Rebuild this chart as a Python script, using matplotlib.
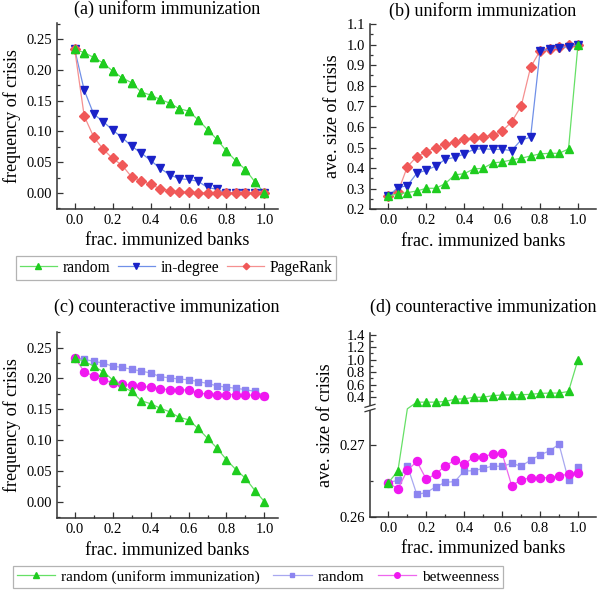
import numpy as np
import matplotlib
matplotlib.use("Agg")
import matplotlib.pyplot as plt
from matplotlib.lines import Line2D
from matplotlib.ticker import MultipleLocator, FixedLocator, FixedFormatter

plt.rcParams['font.family'] = ['Liberation Serif', 'DejaVu Serif']
plt.rcParams['mathtext.fontset'] = 'stix'

# ---------------- data ----------------
frac = [0.0, 0.05, 0.1, 0.15, 0.2, 0.25, 0.3, 0.35, 0.4, 0.45, 0.5,
        0.55, 0.6, 0.65, 0.7, 0.75, 0.8, 0.85, 0.9, 0.95, 1.0]

# (a) frequency of crisis, uniform immunization
freq_random = [0.233, 0.228, 0.220, 0.211, 0.198, 0.187, 0.179, 0.164, 0.159, 0.152, 0.146,
               0.137, 0.133, 0.119, 0.103, 0.087, 0.068, 0.052, 0.038, 0.018, 0.000]
freq_indegree = [0.233, 0.167, 0.128, 0.116, 0.102, 0.090, 0.076, 0.065, 0.053, 0.040, 0.030,
                 0.023, 0.022, 0.019, 0.009, 0.006, 0.000, 0.000, 0.000, 0.000, 0.000]
freq_pagerank = [0.233, 0.125, 0.091, 0.071, 0.056, 0.045, 0.026, 0.020, 0.014, 0.007, 0.004,
                 0.002, 0.001, 0.000, 0.000, 0.000, 0.000, 0.000, 0.000, 0.000, 0.000]

# (b) average size of crisis, uniform immunization
size_random = [0.265, 0.274, 0.281, 0.289, 0.302, 0.302, 0.325, 0.367, 0.373, 0.396, 0.399,
               0.425, 0.430, 0.440, 0.448, 0.459, 0.469, 0.472, 0.472, 0.493, 1.000]
size_indegree = [0.265, 0.305, 0.315, 0.375, 0.390, 0.410, 0.443, 0.452, 0.469, 0.491, 0.494,
                 0.491, 0.491, 0.485, 0.537, 0.550, 0.969, 0.977, 0.985, 0.990, 1.000]
size_pagerank = [0.265, 0.283, 0.407, 0.456, 0.480, 0.500, 0.517, 0.525, 0.540, 0.545, 0.553,
                 0.560, 0.580, 0.625, 0.700, 0.890, 0.970, 0.978, 0.986, 1.000, 1.000]

# (c) frequency of crisis, counteractive immunization
freq_cnt_random = [0.234, 0.231, 0.228, 0.225, 0.220, 0.218, 0.215, 0.212, 0.209, 0.203, 0.201,
                   0.199, 0.198, 0.195, 0.192, 0.188, 0.186, 0.184, 0.182, 0.179, 0.172]
freq_cnt_betw = [0.234, 0.211, 0.204, 0.198, 0.193, 0.191, 0.189, 0.187, 0.186, 0.183, 0.182,
                 0.182, 0.181, 0.176, 0.175, 0.174, 0.174, 0.174, 0.173, 0.173, 0.172]

# (d) average size of crisis, counteractive immunization
size_uni_random_d = [0.26475, 0.26635, 0.281, 0.322, 0.322, 0.322, 0.333, 0.369, 0.374, 0.400, 0.400,
                     0.426, 0.436, 0.436, 0.441, 0.446, 0.462, 0.467, 0.467, 0.493, 1.000]
size_cnt_random = [0.26475, 0.26507, 0.26708, 0.26311, 0.26338, 0.26416, 0.26479, 0.26489, 0.26635,
                   0.26639, 0.26671, 0.26703, 0.26699, 0.26740, 0.26703, 0.26785, 0.26858, 0.26913,
                   0.27005, 0.26507, 0.26685]
size_cnt_betw = [0.26475, 0.26388, 0.26644, 0.26767, 0.26521, 0.26594, 0.26708, 0.26781, 0.26726,
                 0.26831, 0.26831, 0.26872, 0.26877, 0.26434, 0.26511, 0.26543, 0.26543, 0.26543,
                 0.26571, 0.26589, 0.26603]

# ---------------- styles ----------------
G = dict(color='#66e066', marker='^', mfc='#1fcc1f', mec='#1fcc1f', ms=6.0, lw=0.9)
B = dict(color='#7090e8', marker='v', mfc='#1a22c8', mec='#1a22c8', ms=6.0, lw=0.9)
R = dict(color='#f59090', marker='D', mfc='#f05858', mec='#f05858', ms=4.8, lw=0.9)
P = dict(color='#a8a8f0', marker='s', mfc='#8c84f0', mec='#8c84f0', ms=5.0, lw=0.9)
M = dict(color='#ee66ee', marker='o', mfc='#f018f0', mec='#f018f0', ms=5.8, lw=0.9)

TICK_FS = 10.5
LAB_FS = 13

fig = plt.figure(figsize=(6.0, 5.94), dpi=100)
W, H = 600.0, 594.0


def mkax(l, t, r, b):
    return fig.add_axes([l / W, 1 - b / H, (r - l) / W, (b - t) / H])


def style(ax):
    for s in ('top', 'right'):
        ax.spines[s].set_visible(False)
    for s in ('left', 'bottom'):
        ax.spines[s].set_linewidth(1.1)
        ax.spines[s].set_color('#333333')
    ax.tick_params(which='both', direction='in', labelsize=TICK_FS, colors='#333333',
                   labelcolor='black', width=0.9)
    ax.tick_params(which='major', length=4)
    ax.tick_params(which='minor', length=2)
    ax.xaxis.set_major_locator(MultipleLocator(0.2))
    ax.xaxis.set_minor_locator(MultipleLocator(0.1))
    ax.xaxis.set_major_formatter(matplotlib.ticker.FormatStrFormatter('%.1f'))
    ax.set_xlabel('frac. immunized banks', fontsize=LAB_FS, labelpad=4)


# (a)
axa = mkax(56.7, 22.7, 277.7, 209)
axa.plot(frac, freq_random, **G)
axa.plot(frac, freq_indegree, **B)
axa.plot(frac, freq_pagerank, **R)
axa.plot(frac, freq_random, linestyle='none', marker='^', mfc='#1fcc1f', mec='#1fcc1f', ms=6.0)
style(axa)
axa.set_xlim(-0.095, 1.07)
axa.set_ylim(-0.026, 0.2765)
axa.yaxis.set_major_locator(MultipleLocator(0.05))
axa.yaxis.set_minor_locator(MultipleLocator(0.025))
axa.yaxis.set_major_formatter(matplotlib.ticker.FormatStrFormatter('%.2f'))
axa.set_ylabel('frequency of crisis', fontsize=LAB_FS, labelpad=4)
axa.set_title('(a) uniform immunization', fontsize=LAB_FS, pad=6)

# (b)
axb = mkax(370, 24, 596, 209.3)
axb.plot(frac, size_pagerank, **R)
axb.plot(frac, size_indegree, **B)
axb.plot(frac, size_random, **G)
style(axb)
axb.set_xlim(-0.097, 1.095)
axb.set_ylim(0.2, 1.1)
axb.yaxis.set_major_locator(MultipleLocator(0.1))
axb.yaxis.set_minor_locator(MultipleLocator(0.05))
axb.yaxis.set_major_formatter(matplotlib.ticker.FormatStrFormatter('%.1f'))
axb.set_ylabel('ave. size of crisis', fontsize=LAB_FS, labelpad=4)
axb.set_title('(b) uniform immunization', fontsize=LAB_FS, pad=6)

# (c)
axc = mkax(56.7, 332.3, 277.7, 518.3)
axc.plot(frac, freq_cnt_random, **P)
axc.plot(frac, freq_cnt_betw, **M)
axc.plot(frac, freq_random, **G)
style(axc)
axc.set_xlim(-0.095, 1.07)
axc.set_ylim(-0.027, 0.275)
axc.yaxis.set_major_locator(MultipleLocator(0.05))
axc.yaxis.set_minor_locator(MultipleLocator(0.025))
axc.yaxis.set_major_formatter(matplotlib.ticker.FormatStrFormatter('%.2f'))
axc.set_ylabel('frequency of crisis', fontsize=LAB_FS, labelpad=4)
axc.set_title('(c) counteractive immunization', fontsize=LAB_FS, pad=15)

# (d) broken y axis via piecewise-linear scale
_v = np.array([-10.0, 0.26, 0.2747, 0.30, 10.0])
_p = np.array([(-10.0 - 0.26) * 7230, 0.0, 106.3, 113.3, 113.3 + 9.7 * 62.5])


def fwd(v):
    return np.interp(v, _v, _p)


def inv(p):
    return np.interp(p, _p, _v)


axd = mkax(370, 332.8, 596, 517)
axd.set_yscale('function', functions=(fwd, inv))
axd.plot(frac, size_cnt_random, **P)
axd.plot(frac, size_cnt_betw, **M)
axd.plot(frac, size_uni_random_d, markevery=[i for i in range(len(frac)) if i != 2], **G)
style(axd)
axd.set_xlim(-0.097, 1.095)
axd.set_ylim(0.26, 1.43)
major_d = [0.26, 0.27, 0.4, 0.6, 0.8, 1.0, 1.2, 1.4]
axd.yaxis.set_major_locator(FixedLocator(major_d))
axd.yaxis.set_major_formatter(FixedFormatter(['0.26', '0.27', '0.4', '0.6', '0.8', '1.0', '1.2', '1.4']))
axd.yaxis.set_minor_locator(FixedLocator([0.265, 0.5, 0.7, 0.9, 1.1, 1.3]))
axd.set_ylabel('ave. size of crisis', fontsize=LAB_FS, labelpad=4)
axd.set_title('(d) counteractive immunization', fontsize=LAB_FS, pad=15)
# break symbol on the y axis
yb0 = 106.6 / 183.9
yb1 = 111.0 / 183.9
axd.add_patch(plt.Rectangle((-0.02, yb0), 0.04, yb1 - yb0, transform=axd.transAxes,
                            facecolor='white', edgecolor='none', zorder=5, clip_on=False))
for yy in (yb0, yb1):
    axd.plot([-0.022, 0.022], [yy - 0.008, yy + 0.008], transform=axd.transAxes,
             color='#333333', lw=0.9, clip_on=False, zorder=6)


# legends (smaller markers in the legend keys)
def h(st, ms):
    d = dict(st)
    d['ms'] = ms
    return Line2D([], [], **d)


leg1 = fig.legend([h(G, 4.0), h(B, 4.0), h(R, 3.3)], ['random', 'in-degree', 'PageRank'],
                  loc='upper left', bbox_to_anchor=(15.7 / W, 1 - 256 / H), ncol=3,
                  fontsize=11.2, frameon=True, fancybox=False, edgecolor='#a0a0a0',
                  handlelength=2.4, handletextpad=0.35, columnspacing=0.5,
                  borderpad=0.25, borderaxespad=0)
leg1.get_frame().set_linewidth(0.9)

leg2 = fig.legend([h(G, 4.0), h(P, 3.5), h(M, 4.0)],
                  ['random (uniform immunization)', 'random', 'betweenness'],
                  loc='upper left', bbox_to_anchor=(12.7 / W, 1 - 566 / H), ncol=3,
                  fontsize=11.0, frameon=True, fancybox=False, edgecolor='#a0a0a0',
                  handlelength=2.5, handletextpad=0.4, columnspacing=0.9,
                  borderpad=0.25, borderaxespad=0)
leg2.get_frame().set_linewidth(0.9)

fig.savefig('out.png', dpi=100)
